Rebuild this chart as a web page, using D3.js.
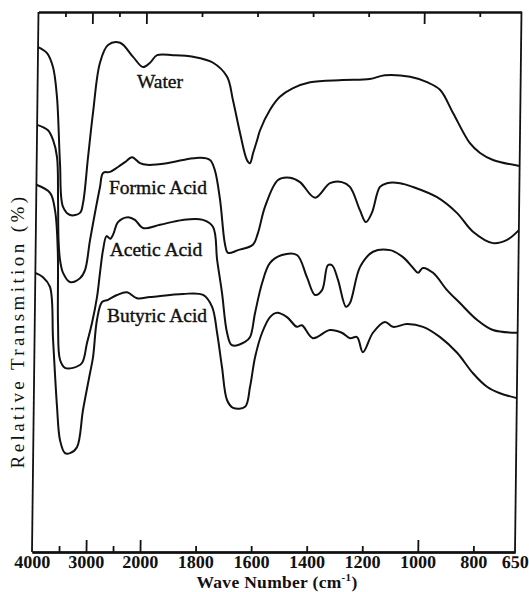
<!DOCTYPE html>
<html><head><meta charset="utf-8">
<script src="https://cdn.jsdelivr.net/npm/d3@7"></script>
<style>
html,body{margin:0;padding:0;background:#fff;}
svg{display:block;}
text{font-family:"Liberation Serif","Times New Roman",serif;fill:#111;}
</style></head>
<body>
<svg id="chart" width="529" height="592"></svg>
<script>
// ---- data (wavenumber cm^-1, relative transmission %) ----
const seriesNames = ["Water", "Formic Acid", "Acetic Acid", "Butyric Acid"];

const water = [
 [4000,93.5],[3833,92.4],[3719,89.8],[3639,84.3],[3568,72.0],[3502,63.9],[3370,62.4],[3187,62.8],
 [3133,64.6],[3050,73.1],[2968,81.3],[2850,90.6],[2705,93.9],[2483,94.3],[2239,91.7],[2052,89.8],
 [1985,90.6],[1960,92.0],[1903,92.0],[1830,91.7],[1758,90.6],[1707,88.0],[1685,83.7],[1658,77.6],
 [1632,72.6],[1621,72.0],[1610,73.9],[1596,76.3],[1586,78.1],[1551,81.9],[1516,84.3],[1469,85.9],
 [1408,87.0],[1290,87.4],[1193,87.6],[1139,88.3],[1048,88.0],[987,87.0],[940,85.6],[892,81.3],
 [830,75.7],[793,73.9],[746,72.6],[650,71.5]
];
const formic = [
 [4000,79.1],[3798,78.1],[3702,76.3],[3624,73.1],[3596,65.2],[3578,57.8],[3546,54.1],[3487,51.7],
 [3356,50.0],[3172,50.7],[3081,52.2],[2994,57.8],[2822,67.6],[2768,70.2],[2640,70.4],[2493,71.3],
 [2365,72.2],[2235,73.1],[2087,72.0],[1991,71.7],[1920,72.0],[1862,72.6],[1801,73.0],[1765,72.6],
 [1747,70.7],[1727,65.2],[1707,56.9],[1696,55.4],[1660,55.9],[1607,56.9],[1589,59.1],[1565,63.9],
 [1519,68.9],[1476,69.3],[1440,68.5],[1385,65.6],[1332,68.3],[1289,68.5],[1260,67.6],[1223,63.3],
 [1201,61.1],[1180,62.8],[1152,67.6],[1127,68.3],[1080,68.3],[1033,67.6],[946,65.7],[874,62.8],
 [815,59.3],[743,57.2],[692,57.8],[650,59.6]
];
const acetic = [
 [4000,68.0],[3746,66.5],[3650,63.3],[3590,55.9],[3569,42.4],[3524,35.6],[3430,34.1],[3281,34.1],
 [3117,35.0],[3028,38.7],[2940,42.4],[2853,47.2],[2803,51.7],[2752,55.9],[2690,58.5],[2620,58.0],
 [2560,59.0],[2481,61.1],[2296,62.0],[2167,61.5],[2017,60.0],[1942,60.6],[1860,61.5],[1788,61.5],[1751,60.2],
 [1735,54.1],[1716,48.0],[1696,40.6],[1678,38.3],[1631,38.9],[1613,39.8],[1596,44.3],[1572,49.8],
 [1545,53.5],[1502,55.0],[1448,55.0],[1411,50.9],[1381,47.6],[1356,48.5],[1336,53.1],[1321,53.1],
 [1299,50.4],[1269,45.4],[1255,46.1],[1220,52.8],[1174,55.6],[1113,55.9],[1066,54.6],[1029,52.6],
 [1011,51.7],[994,52.6],[957,51.7],[906,48.5],[859,46.1],[797,43.0],[739,41.1],[650,40.6]
];
const butyric = [
 [4000,51.7],[3857,50.9],[3726,49.1],[3657,39.3],[3569,26.9],[3506,20.7],[3411,18.3],[3318,18.3],
 [3191,19.4],[3087,26.3],[2966,33.1],[2913,36.1],[2848,43.0],[2759,46.3],[2648,46.7],[2483,47.6],
 [2298,48.1],[2111,47.0],[1975,47.2],[1856,47.8],[1784,47.6],[1751,45.4],[1732,40.6],[1713,34.3],
 [1693,28.1],[1671,26.7],[1628,26.9],[1611,30.6],[1594,36.1],[1570,40.6],[1542,43.5],[1517,44.3],
 [1481,43.5],[1445,41.7],[1427,42.0],[1387,39.6],[1326,41.1],[1283,40.6],[1253,39.6],[1228,39.8],
 [1206,37.0],[1171,40.6],[1128,42.6],[1099,41.7],[1049,42.2],[991,41.7],[929,39.8],[867,36.9],
 [809,33.1],[758,30.6],[711,29.4],[650,28.5]
];
const seriesData = [water, formic, acetic, butyric];

const xTickLabels = [4000, 3000, 2000, 1800, 1600, 1400, 1200, 1000, 800, 650];
const majorTicks = [3000, 2000, 1000];
const minorTicks = [3500, 2500, 1800, 1600, 1400, 1200, 800];

// ---- layout ----
const L = 32, R = 515, T = 12, B = 552;
const skew = Math.atan(0.012) * 180 / Math.PI;

const svg = d3.select("#chart");
svg.append("rect").attr("width", 529).attr("height", 592).attr("fill", "#fff");

// x: IR spectra use a compressed scale above 2000 cm^-1
const x = d3.scaleLinear().domain([4000, 2000, 650]).range([L, 140, R]);
const y = d3.scaleLinear().domain([0, 100]).range([B, T]);

const g = svg.append("g")
  .attr("transform", `translate(0,${B}) skewX(${-skew}) translate(0,${-B})`);

// frame: left / right
g.append("line").attr("x1", L).attr("x2", L).attr("y1", T).attr("y2", B)
  .attr("stroke", "#111").attr("stroke-width", 1.8);
g.append("line").attr("x1", R).attr("x2", R).attr("y1", T).attr("y2", B)
  .attr("stroke", "#111").attr("stroke-width", 1.8);

function styleAxis(sel) {
  sel.selectAll("path.domain").attr("stroke", "#111").attr("stroke-width", 1.8).attr("fill", "none");
  sel.selectAll(".tick line").attr("stroke", "#111").attr("stroke-width", 1.8);
}

// bottom: labels
const bl = g.append("g").attr("transform", `translate(0,${B})`)
  .call(d3.axisBottom(x).tickValues(xTickLabels).tickSize(0).tickSizeOuter(0)
    .tickPadding(0).tickFormat(d3.format("d")));
styleAxis(bl);
bl.selectAll(".tick text").attr("font-family", "Liberation Serif").attr("font-weight", "bold")
  .attr("font-size", 18).attr("fill", "#111").attr("y", 15.5).attr("dy", 0);
// bottom ticks (pointing inward)
styleAxis(g.append("g").attr("transform", `translate(0,${B})`)
  .call(d3.axisBottom(x).tickValues(majorTicks).tickSize(-12).tickSizeOuter(0).tickFormat("")));
styleAxis(g.append("g").attr("transform", `translate(0,${B})`)
  .call(d3.axisBottom(x).tickValues(minorTicks).tickSize(-6).tickSizeOuter(0).tickFormat("")));
// top
styleAxis(g.append("g").attr("transform", `translate(0,${T})`)
  .call(d3.axisTop(x).tickValues(majorTicks).tickSize(-12).tickSizeOuter(0).tickFormat("")));
styleAxis(g.append("g").attr("transform", `translate(0,${T})`)
  .call(d3.axisTop(x).tickValues(minorTicks).tickSize(-5).tickSizeOuter(0).tickFormat("")));

// curves
const line = d3.line().x(d => x(d[0])).y(d => y(d[1])).curve(d3.curveCatmullRom.alpha(0.5));
g.selectAll("path.spec").data(seriesData).join("path")
  .attr("class", "spec").attr("d", line)
  .attr("fill", "none").attr("stroke", "#111").attr("stroke-width", 2)
  .attr("stroke-linejoin", "round");

// curve labels
const labelPos = [[160, 88], [158, 194], [156, 256], [157, 322]];
svg.selectAll("text.lab").data(seriesNames).join("text")
  .attr("class", "lab")
  .attr("x", (d, i) => labelPos[i][0]).attr("y", (d, i) => labelPos[i][1])
  .attr("text-anchor", "middle").attr("font-size", 19.5)
  .attr("stroke", "#111").attr("stroke-width", 0.4)
  .text(d => d);

// axis titles
const xt = svg.append("text").attr("x", 277).attr("y", 588).attr("text-anchor", "middle")
  .attr("font-size", 17.5).attr("font-weight", "bold").attr("letter-spacing", 0.3);
xt.append("tspan").text("Wave Number (cm");
xt.append("tspan").attr("font-size", 11).attr("dy", -7).text("-1");
xt.append("tspan").attr("dy", 7).text(")");

svg.append("text").attr("transform", "translate(24,331) rotate(-90)")
  .attr("text-anchor", "middle").attr("font-size", 19).attr("letter-spacing", 3.4)
  .text("Relative Transmition (%)");
</script>
</body></html>
